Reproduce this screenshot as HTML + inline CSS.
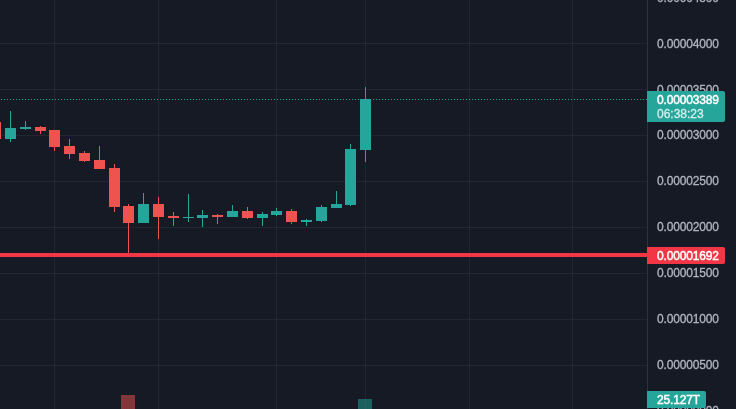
<!DOCTYPE html>
<html><head><meta charset="utf-8"><title>chart</title>
<style>
html,body{margin:0;padding:0;background:#161a25;}
#c{position:relative;width:736px;height:409px;overflow:hidden;background:#161a25;font-family:"Liberation Sans",sans-serif;}
#c div{position:absolute;}
#c .t{font-size:12px;line-height:15px;height:15px;white-space:nowrap;letter-spacing:-0.15px;-webkit-text-stroke:0.3px currentColor;}
</style></head><body><div id="c">
<div style="left:54px;top:0px;width:1px;height:409px;background:rgba(240,243,250,.06);"></div>
<div style="left:158px;top:0px;width:1px;height:409px;background:rgba(240,243,250,.06);"></div>
<div style="left:276px;top:0px;width:1px;height:409px;background:rgba(240,243,250,.06);"></div>
<div style="left:365px;top:0px;width:1px;height:409px;background:rgba(240,243,250,.06);"></div>
<div style="left:469px;top:0px;width:1px;height:409px;background:rgba(240,243,250,.06);"></div>
<div style="left:572px;top:0px;width:1px;height:409px;background:rgba(240,243,250,.06);"></div>
<div style="left:0px;top:43px;width:647px;height:1px;background:rgba(240,243,250,.06);"></div>
<div style="left:0px;top:89px;width:647px;height:1px;background:rgba(240,243,250,.06);"></div>
<div style="left:0px;top:135px;width:647px;height:1px;background:rgba(240,243,250,.06);"></div>
<div style="left:0px;top:181px;width:647px;height:1px;background:rgba(240,243,250,.06);"></div>
<div style="left:0px;top:227px;width:647px;height:1px;background:rgba(240,243,250,.06);"></div>
<div style="left:0px;top:273px;width:647px;height:1px;background:rgba(240,243,250,.06);"></div>
<div style="left:0px;top:319px;width:647px;height:1px;background:rgba(240,243,250,.06);"></div>
<div style="left:0px;top:365px;width:647px;height:1px;background:rgba(240,243,250,.06);"></div>
<div style="left:121px;top:395px;width:14px;height:14px;background:rgba(239,83,80,.5);"></div>
<div style="left:358px;top:399px;width:14px;height:10px;background:rgba(38,166,154,.5);"></div>
<div style="left:1px;top:99px;width:646px;height:1px;background:repeating-linear-gradient(90deg,#26a69a 0,#26a69a 1px,transparent 1px,transparent 3px)"></div>
<div style="left:-5px;top:122px;width:1px;height:17px;background:#ef5350;"></div>
<div style="left:-10px;top:122px;width:11px;height:17px;background:#ef5350;"></div>
<div style="left:10px;top:111px;width:1px;height:31px;background:#26a69a;"></div>
<div style="left:5px;top:128px;width:11px;height:11px;background:#26a69a;"></div>
<div style="left:25px;top:121px;width:1px;height:9px;background:#26a69a;"></div>
<div style="left:20px;top:127px;width:11px;height:2px;background:#26a69a;"></div>
<div style="left:40px;top:126px;width:1px;height:8px;background:#ef5350;"></div>
<div style="left:35px;top:127px;width:11px;height:4px;background:#ef5350;"></div>
<div style="left:54px;top:130px;width:1px;height:21px;background:#ef5350;"></div>
<div style="left:49px;top:130px;width:11px;height:17px;background:#ef5350;"></div>
<div style="left:69px;top:139px;width:1px;height:20px;background:#ef5350;"></div>
<div style="left:64px;top:146px;width:11px;height:8px;background:#ef5350;"></div>
<div style="left:84px;top:151px;width:1px;height:11px;background:#ef5350;"></div>
<div style="left:79px;top:153px;width:11px;height:8px;background:#ef5350;"></div>
<div style="left:99px;top:146px;width:1px;height:23px;background:#ef5350;"></div>
<div style="left:94px;top:160px;width:11px;height:9px;background:#ef5350;"></div>
<div style="left:114px;top:164px;width:1px;height:48px;background:#ef5350;"></div>
<div style="left:109px;top:168px;width:11px;height:39px;background:#ef5350;"></div>
<div style="left:128px;top:204px;width:1px;height:51px;background:#ef5350;"></div>
<div style="left:123px;top:206px;width:11px;height:17px;background:#ef5350;"></div>
<div style="left:143px;top:193px;width:1px;height:30px;background:#26a69a;"></div>
<div style="left:138px;top:204px;width:11px;height:19px;background:#26a69a;"></div>
<div style="left:158px;top:197px;width:1px;height:42px;background:#ef5350;"></div>
<div style="left:153px;top:204px;width:11px;height:13px;background:#ef5350;"></div>
<div style="left:173px;top:212px;width:1px;height:14px;background:#ef5350;"></div>
<div style="left:168px;top:216px;width:11px;height:2px;background:#ef5350;"></div>
<div style="left:188px;top:194px;width:1px;height:28px;background:#26a69a;"></div>
<div style="left:183px;top:217px;width:11px;height:1px;background:#26a69a;"></div>
<div style="left:202px;top:210px;width:1px;height:17px;background:#26a69a;"></div>
<div style="left:197px;top:215px;width:11px;height:3px;background:#26a69a;"></div>
<div style="left:217px;top:214px;width:1px;height:10px;background:#ef5350;"></div>
<div style="left:212px;top:215px;width:11px;height:2px;background:#ef5350;"></div>
<div style="left:232px;top:205px;width:1px;height:12px;background:#26a69a;"></div>
<div style="left:227px;top:211px;width:11px;height:6px;background:#26a69a;"></div>
<div style="left:247px;top:207px;width:1px;height:12px;background:#ef5350;"></div>
<div style="left:242px;top:211px;width:11px;height:7px;background:#ef5350;"></div>
<div style="left:262px;top:212px;width:1px;height:14px;background:#26a69a;"></div>
<div style="left:257px;top:214px;width:11px;height:4px;background:#26a69a;"></div>
<div style="left:276px;top:208px;width:1px;height:8px;background:#26a69a;"></div>
<div style="left:271px;top:211px;width:11px;height:4px;background:#26a69a;"></div>
<div style="left:291px;top:209px;width:1px;height:15px;background:#ef5350;"></div>
<div style="left:286px;top:211px;width:11px;height:11px;background:#ef5350;"></div>
<div style="left:306px;top:219px;width:1px;height:7px;background:#26a69a;"></div>
<div style="left:301px;top:220px;width:11px;height:2px;background:#26a69a;"></div>
<div style="left:321px;top:205px;width:1px;height:17px;background:#26a69a;"></div>
<div style="left:316px;top:207px;width:11px;height:14px;background:#26a69a;"></div>
<div style="left:336px;top:191px;width:1px;height:17px;background:#26a69a;"></div>
<div style="left:331px;top:204px;width:11px;height:4px;background:#26a69a;"></div>
<div style="left:350px;top:144px;width:1px;height:62px;background:#26a69a;"></div>
<div style="left:345px;top:149px;width:11px;height:56px;background:#26a69a;"></div>
<div style="left:365px;top:87px;width:1px;height:75px;background:#26a69a;"></div>
<div style="left:360px;top:99px;width:11px;height:51px;background:#26a69a;"></div>
<div style="left:0px;top:253px;width:647px;height:4px;background:#f23645;"></div>
<div style="left:647px;top:0px;width:1px;height:409px;background:#2e323e;"></div>
<div class="t" style="left:657px;top:-9px;color:#b2b5be">0.00004500</div>
<div class="t" style="left:657px;top:37px;color:#b2b5be">0.00004000</div>
<div class="t" style="left:657px;top:83px;color:#b2b5be">0.00003500</div>
<div class="t" style="left:657px;top:128px;color:#b2b5be">0.00003000</div>
<div class="t" style="left:657px;top:174px;color:#b2b5be">0.00002500</div>
<div class="t" style="left:657px;top:220px;color:#b2b5be">0.00002000</div>
<div class="t" style="left:657px;top:266px;color:#b2b5be">0.00001500</div>
<div class="t" style="left:657px;top:312px;color:#b2b5be">0.00001000</div>
<div class="t" style="left:657px;top:358px;color:#b2b5be">0.00000500</div>
<div class="t" style="left:657px;top:404px;color:#b2b5be">0.00000000</div>
<div style="left:647px;top:91px;width:78px;height:31px;background:#26a69a;border-radius:0 2px 2px 0"></div>
<div class="t" style="left:657px;top:93px;color:#fff;-webkit-text-stroke-width:.45px">0.00003389</div>
<div class="t" style="left:657px;top:107px;color:#d4edeb;letter-spacing:0">06:38:23</div>
<div style="left:647px;top:247px;width:78px;height:17px;background:#f23645;border-radius:0 2px 2px 0"></div>
<div class="t" style="left:657px;top:249px;color:#fff;-webkit-text-stroke-width:.45px">0.00001692</div>
<div style="left:647px;top:391px;width:59px;height:17px;background:#26a69a;border-radius:0 2px 2px 0"></div>
<div class="t" style="left:657px;top:393px;color:#fff;-webkit-text-stroke-width:.45px">25.127T</div>
</div></body></html>
